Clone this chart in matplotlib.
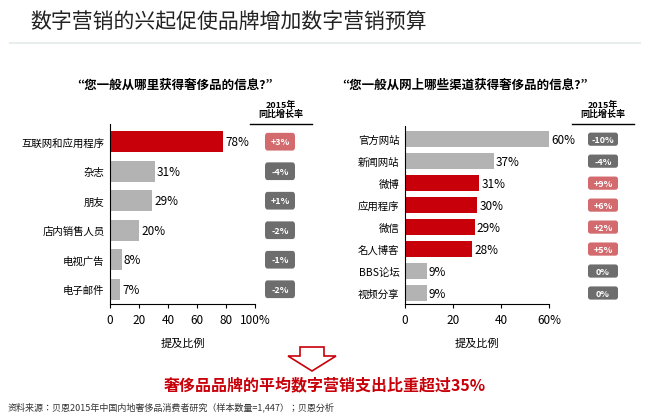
import matplotlib
matplotlib.use("Agg")
import matplotlib.pyplot as plt
from matplotlib.patches import Polygon, FancyBboxPatch
import matplotlib.transforms as mtransforms
from matplotlib import font_manager as fm

cjk = None
for f in fm.findSystemFonts():
    if 'CJK' in f or 'cjk' in f.lower():
        try:
            fm.fontManager.addfont(f)
        except Exception:
            pass
names = [f.name for f in fm.fontManager.ttflist if 'CJK' in f.name]
for pref in ["Noto Sans CJK SC", "Noto Sans CJK JP", "Noto Sans CJK TC", "Noto Sans CJK KR"]:
    if pref in names:
        cjk = pref; break
if cjk is None and names:
    cjk = names[0]
plt.rcParams['font.family'] = [cjk, 'DejaVu Sans'] if cjk else ['DejaVu Sans']

left_cats = ["互联网和应用程序", "杂志", "朋友", "店内销售人员", "电视广告", "电子邮件"]
left_vals = [78, 31, 29, 20, 8, 7]
left_growth = ["+3%", "-4%", "+1%", "-2%", "-1%", "-2%"]
left_red = [True, False, False, False, False, False]

right_cats = ["官方网站", "新闻网站", "微博", "应用程序", "微信", "名人博客", "BBS论坛", "视频分享"]
right_vals = [60, 37, 31, 30, 29, 28, 9, 9]
right_growth = ["-10%", "-4%", "+9%", "+6%", "+2%", "+5%", "0%", "0%"]
right_red = [False, False, True, True, True, True, False, False]

RED = "#c8000a"; GREY = "#b3b3b3"; PINK = "#d26a6e"; DGREY = "#6d6d6d"

fig = plt.figure(figsize=(6.5, 4.14), dpi=100)
W, H = 650, 414
def fx(p): return p / W
def fy(p): return 1 - p / H

fig.text(fx(30), fy(22), "数字营销的兴起促使品牌增加数字营销预算", fontsize=15, va='center', color='#222222')
fig.add_artist(plt.Line2D([fx(10), fx(640)], [fy(44), fy(44)], color='#e8eeee', lw=1.5))

def panel(left, width, top, bottom, cats, vals, growth, red, xmax, ticks, tlabels, qx, question, badge_x, hdr_x):
    ax = fig.add_axes([fx(left), fy(bottom), fx(width), (bottom - top) / H])
    y = list(range(len(cats)))
    colors = [RED if r else GREY for r in red]
    ax.barh(y, vals, color=colors, height=0.72)
    ax.set_ylim(len(cats) - 0.5, -0.6)
    ax.set_xlim(0, xmax)
    ax.set_yticks(y); ax.set_yticklabels(cats, fontsize=7.5)
    ax.set_xticks(ticks); ax.set_xticklabels(tlabels, fontsize=8.5)
    for s in ['top', 'right']: ax.spines[s].set_visible(False)
    ax.tick_params(axis='y', length=0, pad=4)
    ax.tick_params(axis='x', length=3)
    for yi, v in zip(y, vals):
        ax.text(v + xmax * 0.015, yi, f"{v}%", va='center', fontsize=8.5)
    ax.set_xlabel("提及比例", fontsize=8, labelpad=8)
    trans = mtransforms.blended_transform_factory(fig.transFigure, ax.transData)
    bw = fx(30)
    for yi, g, r in zip(y, growth, red):
        ax.add_patch(FancyBboxPatch((fx(badge_x) - bw / 2, yi - 0.3), bw, 0.6,
                                    boxstyle='round,pad=0,rounding_size=0.004',
                                    transform=trans, fc=PINK if r else DGREY, ec='none',
                                    clip_on=False, mutation_aspect=30))
        ax.text(fx(badge_x), yi, g, transform=trans, ha='center', va='center', fontsize=6.5,
                color='white', fontweight='bold', clip_on=False)
    fig.text(fx(hdr_x), fy(110), "2015年\n同比增长率", ha='center', va='center', fontsize=6.5, fontweight='bold', linespacing=1.1)
    fig.add_artist(plt.Line2D([fx(hdr_x - 31), fx(hdr_x + 31)], [fy(125), fy(125)], color='black', lw=1))
    fig.text(fx(qx), fy(85), question, ha='center', va='center', fontsize=9, fontweight='bold', style='italic')
    return ax

panel(110, 145, 125, 305, left_cats, left_vals, left_growth, left_red, 100,
      [0, 20, 40, 60, 80, 100], ["0", "20", "40", "60", "80", "100%"], 175,
      "“您一般从哪里获得奢侈品的信息?”", 280, 281)
panel(405, 144, 127, 305, right_cats, right_vals, right_growth, right_red, 60,
      [0, 20, 40, 60], ["0", "20", "40", "60%"], 465,
      "“您一般从网上哪些渠道获得奢侈品的信息?”", 603, 603)

cx = 312
pts = [(cx - 12, 348), (cx + 12, 348), (cx + 12, 357), (cx + 24, 357), (cx, 372), (cx - 24, 357), (cx - 12, 357)]
fig.add_artist(Polygon([(fx(a), fy(b)) for a, b in pts], closed=True, fc='white', ec=RED, lw=1.2, transform=fig.transFigure))

fig.text(fx(325), fy(385), "奢侈品品牌的平均数字营销支出比重超过35%", ha='center', va='center',
         fontsize=11.5, fontweight='bold', color=RED)
fig.text(fx(8), fy(407), "资料来源：贝恩2015年中国内地奢侈品消费者研究（样本数量=1,447）；贝恩分析",
         ha='left', va='center', fontsize=6.5, color='#333333')

fig.savefig("out.png", dpi=100)
